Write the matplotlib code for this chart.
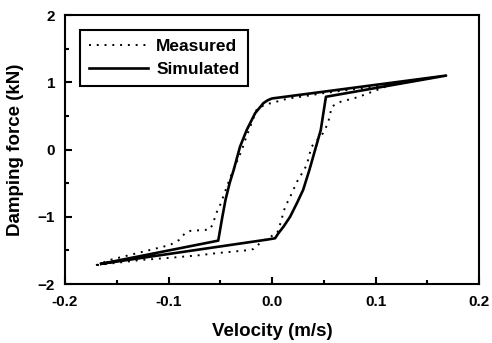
import numpy as np
import matplotlib
matplotlib.use('agg')
import matplotlib.pyplot as plt

plt.rcParams['font.family'] = ['Liberation Sans', 'DejaVu Sans']
plt.rcParams['font.weight'] = 'bold'

# simulated loop (velocity m/s, force kN)
sim_v = [-0.165, -0.052, -0.048, -0.045, -0.041, -0.037, -0.031, -0.0245, -0.0164,
         -0.0084, -0.004, 0.0, 0.01, 0.168,
         0.052, 0.047, 0.036, 0.030, 0.0239, 0.0174, 0.0109, 0.0061, 0.0029,
         -0.005, -0.165]
sim_f = [-1.70, -1.355, -1.0, -0.75, -0.50, -0.30, 0.04, 0.29, 0.54,
         0.69, 0.735, 0.76, 0.78, 1.10,
         0.785, 0.29, -0.305, -0.60, -0.80, -1.00, -1.15, -1.245, -1.32,
         -1.34, -1.70]

# measured loop
meas_v = [-0.170, -0.156, -0.0986, -0.089, -0.084, -0.079, -0.069, -0.060, -0.057,
          -0.054, -0.050, -0.040, -0.029, -0.026, -0.015, -0.006, 0.0, 0.008,
          0.016, 0.03, 0.05, 0.10, 0.168,
          0.114, 0.083, 0.066, 0.0577, 0.054, 0.049, 0.038, 0.0335, 0.029,
          0.024, 0.017, 0.0126, 0.008, 0.005, -0.010, -0.018, -0.025, -0.053,
          -0.069, -0.098, -0.125, -0.170]
meas_f = [-1.72, -1.64, -1.42, -1.34, -1.24, -1.21, -1.20, -1.19, -1.10,
          -0.95, -0.82, -0.40, 0.0, 0.14, 0.59, 0.68, 0.69, 0.73,
          0.76, 0.79, 0.84, 0.94, 1.10,
          0.96, 0.78, 0.71, 0.64, 0.39, 0.24, 0.04, -0.23, -0.35,
          -0.48, -0.72, -0.85, -1.10, -1.24, -1.37, -1.48, -1.50, -1.54,
          -1.57, -1.61, -1.64, -1.72]

fig = plt.figure(figsize=(4.92, 3.43), dpi=100)
ax = fig.add_axes([0.132, 0.172, 0.842, 0.784])

ax.plot(meas_v, meas_f, color='k', lw=1.4, linestyle=(0, (1, 3)), label='Measured')
ax.plot(sim_v, sim_f, color='k', lw=1.9, label='Simulated')

ax.set_xlim(-0.2, 0.2)
ax.set_ylim(-2, 2)
ax.set_xticks([-0.2, -0.1, 0.0, 0.1, 0.2])
ax.set_xticklabels(['-0.2', '-0.1', '0.0', '0.1', '0.2'])
ax.set_yticks([-2, -1, 0, 1, 2])
ax.set_xticks([-0.15, -0.05, 0.05, 0.15], minor=True)
ax.set_yticks([-1.5, -0.5, 0.5, 1.5], minor=True)
ax.tick_params(which='both', direction='in', top=False, right=False,
               labelsize=11, width=1.5)
ax.tick_params(axis='x', which='major', pad=8)
ax.tick_params(axis='y', which='major', pad=7)
ax.tick_params(which='major', length=5)
ax.tick_params(which='minor', length=3)
for s in ax.spines.values():
    s.set_linewidth(1.5)

ax.set_xlabel('Velocity (m/s)', fontsize=13.5, fontweight='bold', labelpad=10)
ax.set_ylabel('Damping force (kN)', fontsize=13.5, fontweight='bold', labelpad=10)

leg = ax.legend(loc='upper left', bbox_to_anchor=(0.036, 0.944), fontsize=12.5,
                fancybox=False, edgecolor='k', framealpha=1, handlelength=3.4,
                borderpad=0.5, labelspacing=0.45, handletextpad=0.5,
                borderaxespad=0)
leg.get_frame().set_linewidth(1.5)

fig.savefig('out.png', dpi=100)
